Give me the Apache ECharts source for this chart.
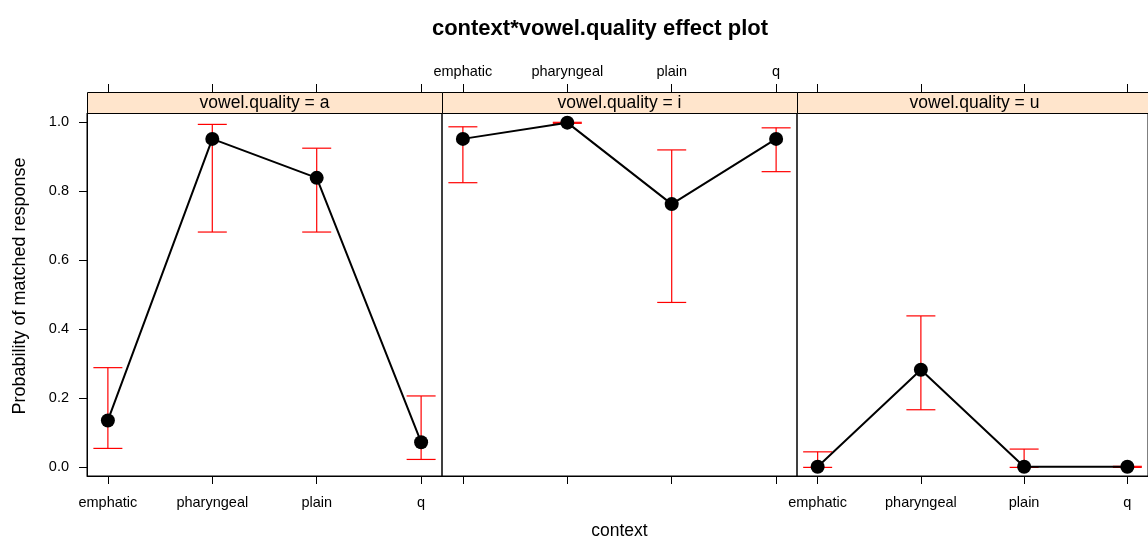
<!DOCTYPE html>
<html>
<head>
<meta charset="utf-8">
<script src="https://cdn.jsdelivr.net/npm/echarts@6/dist/echarts.min.js"></script>
<style>
html,body{margin:0;padding:0;background:#fff;}
#chart{width:1148px;height:540px;}
</style>
</head>
<body>
<div id="chart"></div>
<script>
const categories = ['emphatic', 'pharyngeal', 'plain', 'q'];
const panelLabels = ['vowel.quality = a', 'vowel.quality = i', 'vowel.quality = u'];
const yTicks = [0, 0.2, 0.4, 0.6, 0.8, 1.0];

const fitA = [0.136, 0.952, 0.839, 0.073];
const lowA = [0.055, 0.682, 0.682, 0.023];
const upA  = [0.289, 0.994, 0.925, 0.207];

const fitI = [0.952, 0.999, 0.763, 0.952];
const lowI = [0.825, 0.997, 0.478, 0.857];
const upI  = [0.987, 1.000, 0.920, 0.984];

const fitU = [0.002, 0.283, 0.002, 0.002];
const lowU = [0.000, 0.167, 0.000, 0.000];
const upU  = [0.045, 0.439, 0.053, 0.003];

const fits = [fitA, fitI, fitU];
const lows = [lowA, lowI, lowU];
const ups  = [upA, upI, upU];

const FONT = '"Liberation Sans", Arial, sans-serif';
const PANEL_LEFT = 87, PANEL_W = 355, PANEL_TOP = 113, PANEL_H = 363, STRIP_H = 21;
const catIdx = categories.map((c, i) => i);

const grids = [], xAxes = [], yAxes = [], series = [], graphics = [];

for (let p = 0; p < 3; p++) {
  grids.push({ left: PANEL_LEFT + p * PANEL_W, top: PANEL_TOP, width: PANEL_W, height: PANEL_H,
    show: true, borderColor: '#000', borderWidth: 1, backgroundColor: 'transparent', containLabel: false });
  // bottom x axis
  xAxes.push({ gridIndex: p, type: 'value', min: -0.2, max: 3.2, position: 'bottom',
    splitLine: { show: false },
    axisLine: { show: true, onZero: false, lineStyle: { color: '#000', width: 1 } },
    axisTick: { show: true, customValues: catIdx, length: 8, lineStyle: { color: '#000' } },
    axisLabel: { show: p !== 1, customValues: catIdx, margin: 19, color: '#000', fontSize: 14.5, fontFamily: FONT,
      formatter: v => categories[Math.round(v)] } });
  // top x axis (above strip)
  xAxes.push({ gridIndex: p, type: 'value', min: -0.2, max: 3.2, position: 'top', offset: STRIP_H,
    splitLine: { show: false },
    axisLine: { show: false, onZero: false },
    axisTick: { show: true, customValues: catIdx, length: 8, lineStyle: { color: '#000' } },
    axisLabel: { show: p === 1, customValues: catIdx, margin: 13, color: '#000', fontSize: 14.5, fontFamily: FONT,
      formatter: v => categories[Math.round(v)] } });
  yAxes.push({ gridIndex: p, type: 'value', min: -0.025, max: 1.027, position: 'left',
    splitLine: { show: false },
    axisLine: { show: p === 0, onZero: false, lineStyle: { color: '#000' } },
    axisTick: { show: p === 0, customValues: yTicks, length: 8, lineStyle: { color: '#000' } },
    axisLabel: { show: p === 0, customValues: yTicks, margin: 18, color: '#000', fontSize: 14.5, fontFamily: FONT,
      formatter: v => v.toFixed(1) } });

  // error bars
  series.push({
    type: 'custom', xAxisIndex: p * 2, yAxisIndex: p, z: 2, clip: false,
    data: catIdx.map(i => [i, lows[p][i], ups[p][i]]),
    renderItem: function (params, api) {
      const lo = api.coord([api.value(0), api.value(1)]);
      const hi = api.coord([api.value(0), api.value(2)]);
      const hw = 14.5;
      const st = { stroke: '#ff0000', lineWidth: 1.2 };
      return { type: 'group', children: [
        { type: 'line', shape: { x1: lo[0], y1: lo[1], x2: hi[0], y2: hi[1] }, style: st },
        { type: 'line', shape: { x1: lo[0] - hw, y1: lo[1], x2: lo[0] + hw, y2: lo[1] }, style: st },
        { type: 'line', shape: { x1: hi[0] - hw, y1: hi[1], x2: hi[0] + hw, y2: hi[1] }, style: st }
      ] };
    }
  });
  // fitted line + points
  series.push({
    type: 'line', xAxisIndex: p * 2, yAxisIndex: p, z: 3,
    data: catIdx.map(i => [i, fits[p][i]]),
    symbol: 'circle', symbolSize: 14, showSymbol: true,
    itemStyle: { color: '#000' }, lineStyle: { color: '#000', width: 2 },
    emphasis: { disabled: true }, animation: false
  });

  // strip
  graphics.push({ type: 'rect', left: PANEL_LEFT + p * PANEL_W, top: PANEL_TOP - STRIP_H,
    shape: { width: PANEL_W, height: STRIP_H },
    style: { fill: '#ffe5cc', stroke: '#000', lineWidth: 1 } });
  graphics.push({ type: 'text', x: PANEL_LEFT + p * PANEL_W + PANEL_W / 2, y: PANEL_TOP - STRIP_H / 2 + 0.5,
    style: { text: panelLabels[p], fill: '#000', font: '17.5px ' + FONT, textAlign: 'center', textVerticalAlign: 'middle' } });
}

graphics.push({ type: 'text', x: 600, y: 29,
  style: { text: 'context*vowel.quality effect plot', fill: '#000', font: 'bold 22px ' + FONT, textAlign: 'center', textVerticalAlign: 'middle' } });
graphics.push({ type: 'text', x: 619.5, y: 531,
  style: { text: 'context', fill: '#000', font: '17.5px ' + FONT, textAlign: 'center', textVerticalAlign: 'middle' } });
graphics.push({ type: 'text', x: 20, y: 286, rotation: Math.PI / 2,
  style: { text: 'Probability of matched response', fill: '#000', font: '18px ' + FONT, textAlign: 'center', textVerticalAlign: 'middle' } });

const chart = echarts.init(document.getElementById('chart'), null, { renderer: 'canvas' });
chart.setOption({
  animation: false,
  backgroundColor: '#fff',
  grid: grids, xAxis: xAxes, yAxis: yAxes, series: series, graphic: graphics
});
</script>
</body>
</html>
